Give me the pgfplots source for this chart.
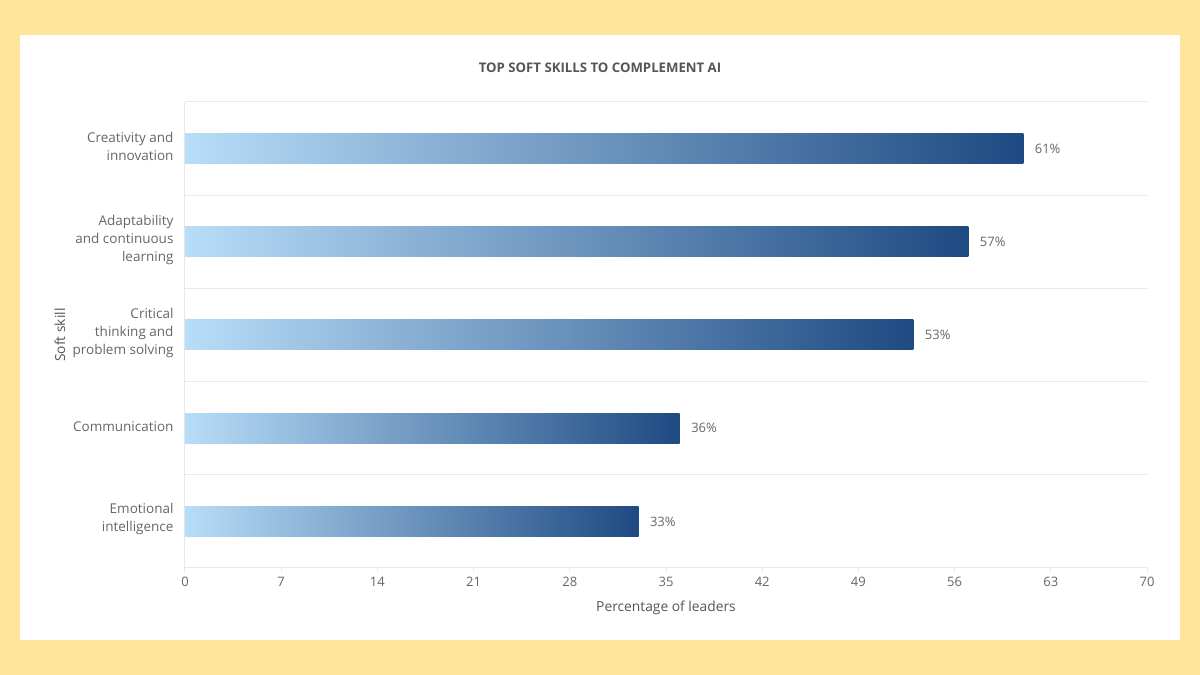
\documentclass[border=0pt]{standalone}
\usepackage{fontspec}
\setmainfont{Open Sans}
\usepackage{pgfplots}
\pgfplotsset{compat=1.18}
\definecolor{bgyellow}{HTML}{FFE49C}
\definecolor{barlight}{HTML}{B8DDF8}
\definecolor{bardark}{HTML}{1E4A82}
\definecolor{txtgray}{HTML}{666666}
\definecolor{lblgray}{HTML}{555555}
\definecolor{gridgray}{HTML}{E8E8E8}
\pgfplotsset{mybar/.style={xbar, bar width=30pt, bar shift=0pt, draw=none, mark=none, left color=barlight, right color=bardark}}
\begin{document}
\begin{tikzpicture}
\fill[bgyellow] (0pt,0pt) rectangle (1200pt,675pt);
\fill[white] (20pt,35pt) rectangle (1180pt,640pt);
\node[font=\fontsize{13.2}{15}\selectfont\bfseries, text=lblgray] at (600pt,607pt) {TOP SOFT SKILLS TO COMPLEMENT AI};
\node[font=\fontsize{13.8}{16}\selectfont, text=lblgray] at (666pt,67pt) {Percentage of leaders};
\node[font=\fontsize{13.8}{16}\selectfont, text=lblgray, rotate=90] at (60pt,340pt) {Soft skill};
\begin{axis}[
  at={(185pt,107pt)}, anchor=south west,
  scale only axis, width=962pt, height=466pt,
  xmin=0, xmax=70, ymin=-0.5, ymax=4.5,
  xtick={0,7,...,70},
  ytick={0,1,2,3,4},
  yticklabels={{Emotional\\intelligence},{Communication},{Critical\\thinking and\\problem solving},{Adaptability\\and continuous\\learning},{Creativity and\\innovation}},
  minor ytick={0.5,1.5,2.5,3.5,4.5},
  yminorgrids,
  minor grid style={gridgray, line width=1pt},
  axis lines*=left,
  axis line style={-, draw=gridgray, line width=1pt},
  xtick style={draw=gridgray, line width=1pt},
  ytick style={draw=none},
  minor tick length=0pt,
  tick align=outside,
  major tick length=4pt,
  /pgf/number format/assume math mode=true,
  xticklabel style={font=\fontsize{13}{15}\selectfont, text=txtgray, yshift=-2pt},
  yticklabel style={font=\fontsize{13.5}{18}\selectfont, text=txtgray, align=right, xshift=-4pt, yshift=2pt},
  clip=false,
]
\addplot[mybar] coordinates {(33,0)};
\addplot[mybar] coordinates {(36,1)};
\addplot[mybar] coordinates {(53,2)};
\addplot[mybar] coordinates {(57,3)};
\addplot[mybar] coordinates {(61,4)};
\addplot[draw=none, mark=none, point meta=x,
  nodes near coords={\pgfmathprintnumber{\pgfplotspointmeta}\%},
  nodes near coords style={anchor=west, xshift=8pt, text=txtgray, font=\fontsize{13}{15}\selectfont}]
  coordinates {(33,0) (36,1) (53,2) (57,3) (61,4)};
\end{axis}
\end{tikzpicture}
\end{document}
